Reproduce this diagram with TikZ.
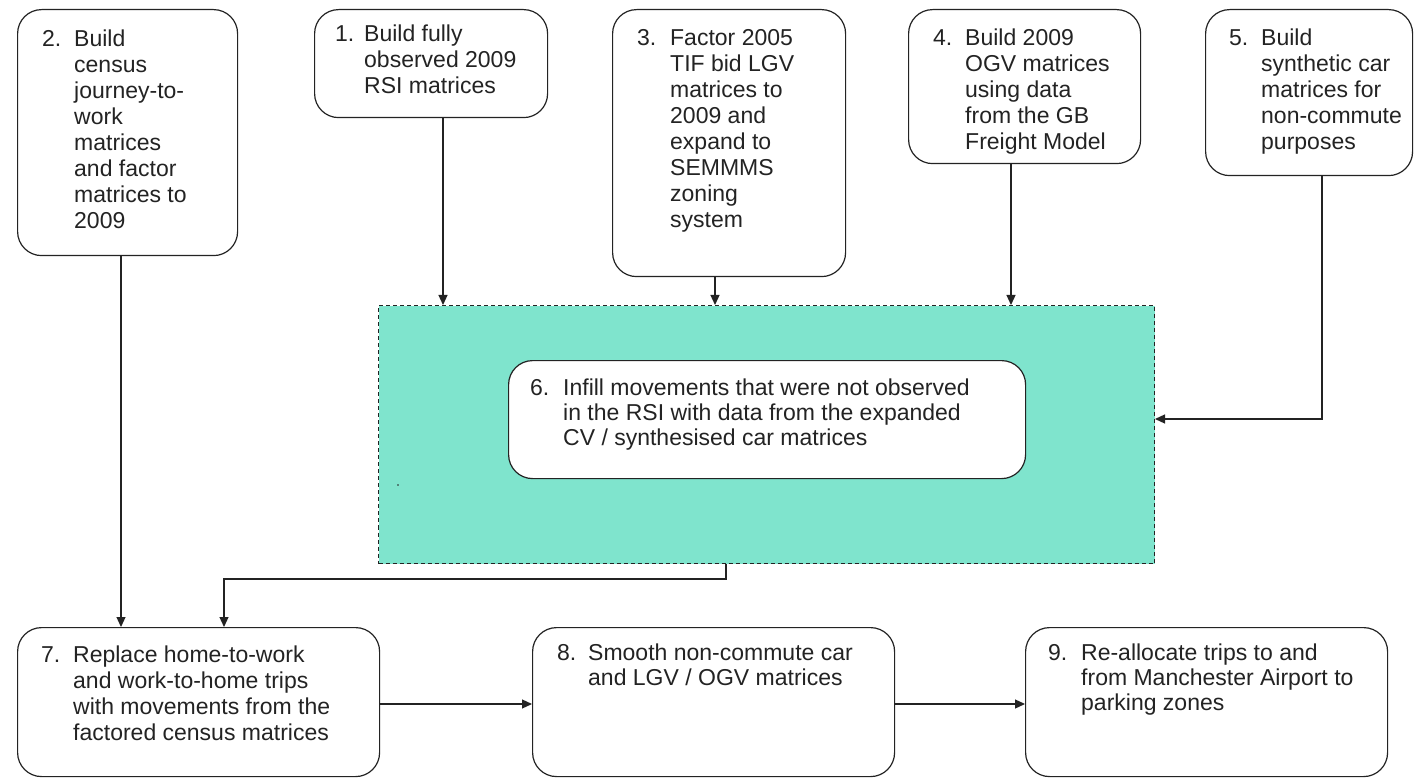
\documentclass[tikz,border=0pt]{standalone}
\usepackage{fontspec}
\setmainfont{Liberation Sans}
\usetikzlibrary{arrows.meta}
\definecolor{infill}{RGB}{127,228,205}
\definecolor{ink}{RGB}{35,35,35}
\begin{document}
\begin{tikzpicture}[x=1pt,y=-1pt,
  stage/.style={draw=ink, line width=1.2pt, rounded corners=24pt, fill=white,
                inner sep=0pt, anchor=north west},
  hold/.style={draw=ink, line width=1pt, dash pattern=on 4pt off 3pt,
               fill=infill, inner sep=0pt, anchor=north west},
  caption/.style={anchor=base west, inner sep=0pt, text=ink,
                  font=\fontsize{23}{26}\selectfont},
  tightcaption/.style={caption, font=\fontsize{23}{25}\selectfont},
  flow/.style={draw=ink, line width=1.2pt, -{Triangle[length=10pt,width=9pt]}}]

\useasboundingbox (0,0) rectangle (1417,778);

% grouping panel for the infill step
\node[hold, minimum width=776pt, minimum height=258pt] (g) at (378,305) {};
\fill[ink] (398,485) circle (0.8pt);

% process stages
\node[stage, minimum width=220pt, minimum height=246pt] (b2) at (17,9) {};
\node[stage, minimum width=233pt, minimum height=108pt] (b1) at (314,9) {};
\node[stage, minimum width=233pt, minimum height=267pt] (b3) at (612,9) {};
\node[stage, minimum width=232pt, minimum height=154pt] (b4) at (908,9) {};
\node[stage, minimum width=207pt, minimum height=166pt] (b5) at (1205,9) {};
\node[stage, minimum width=517pt, minimum height=118pt] (b6) at (508,360) {};
\node[stage, minimum width=362pt, minimum height=149pt] (b7) at (17,627) {};
\node[stage, minimum width=362pt, minimum height=149pt] (b8) at (532,627) {};
\node[stage, minimum width=362pt, minimum height=149pt] (b9) at (1025,627) {};

% stage texts
\node[caption] (t2) at (42,47) {\begin{tabular}[t]{@{}p{32pt}@{}l@{}}
2. & Build\\ & census\\ & journey-to-\\ & work\\ & matrices\\ & and factor\\ & matrices to\\ & 2009\end{tabular}};
\node[caption] (t1) at (335,42) {\begin{tabular}[t]{@{}p{29pt}@{}l@{}}
1. & Build fully\\ & observed 2009\\ & RSI matrices\end{tabular}};
\node[caption] (t3) at (637,46) {\begin{tabular}[t]{@{}p{33pt}@{}l@{}}
3. & Factor 2005\\ & TIF bid LGV\\ & matrices to\\ & 2009 and\\ & expand to\\ & SEMMMS\\ & zoning\\ & system\end{tabular}};
\node[caption] (t4) at (933,46) {\begin{tabular}[t]{@{}p{32pt}@{}l@{}}
4. & Build 2009\\ & OGV matrices\\ & using data\\ & from the GB\\ & Freight Model\end{tabular}};
\node[caption] (t5) at (1229,46) {\begin{tabular}[t]{@{}p{32pt}@{}l@{}}
5. & Build\\ & synthetic car\\ & matrices for\\ & non-commute\\ & purposes\end{tabular}};
\node[tightcaption] (t6) at (530,395) {\begin{tabular}[t]{@{}p{33pt}@{}l@{}}
6. & Infill movements that were not observed\\ & in the RSI with data from the expanded\\ & CV / synthesised car matrices\end{tabular}};
\node[caption] (t7) at (41,662) {\begin{tabular}[t]{@{}p{32pt}@{}l@{}}
7. & Replace home-to-work\\ & and work-to-home trips\\ & with movements from the\\ & factored census matrices\end{tabular}};
\node[tightcaption] (t8) at (557,660) {\begin{tabular}[t]{@{}p{31pt}@{}l@{}}
8. & Smooth non-commute car\\ & and LGV / OGV matrices\end{tabular}};
\node[tightcaption] (t9) at (1048,660) {\begin{tabular}[t]{@{}p{33pt}@{}l@{}}
9. & Re-allocate trips to and\\ & from Manchester Airport to\\ & parking zones\end{tabular}};

% connector tracks
\coordinate (x1) at (443,0);
\coordinate (x2) at (121,0);
\coordinate (x3) at (715,0);
\coordinate (x4) at (1011,0);
\coordinate (x5) at (1322,0);
\coordinate (xg) at (726,0);
\coordinate (x7) at (224,0);
\coordinate (y5) at (0,419);
\coordinate (yg) at (0,579);
\coordinate (yr) at (0,704);

\draw[flow] (x1 |- b1.south) -- (x1 |- g.north);
\draw[flow] (x3 |- b3.south) -- (x3 |- g.north);
\draw[flow] (x4 |- b4.south) -- (x4 |- g.north);
\draw[flow] (x5 |- b5.south) |- (g.east |- y5);
\draw[flow] (x2 |- b2.south) -- (x2 |- b7.north);
\draw[flow] (xg |- g.south) -- (xg |- yg) -| (x7 |- b7.north);
\draw[flow] (b7.east |- yr) -- (b8.west |- yr);
\draw[flow] (b8.east |- yr) -- (b9.west |- yr);
\end{tikzpicture}
\end{document}
